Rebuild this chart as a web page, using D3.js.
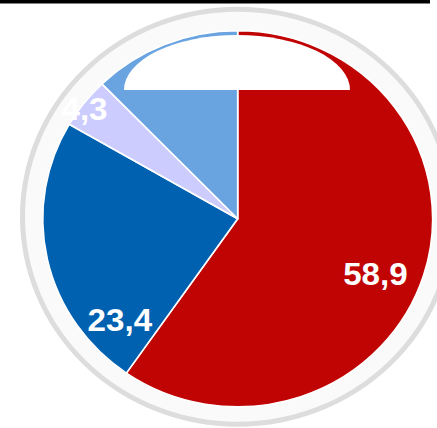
<!DOCTYPE html>
<html>
<head>
<meta charset="utf-8">
<script src="https://cdn.jsdelivr.net/npm/d3@7"></script>
<style>
  html, body { margin: 0; padding: 0; background: #fff; }
  svg { display: block; }
</style>
</head>
<body>
<svg width="437" height="428"></svg>
<script>
// data
const categories = ['A', 'B', 'C', 'D'];
const values = [58.9, 23.4, 4.3, 12.1];
const labels = ['58,9', '23,4', '4,3', '12,1'];
const colors = ['#c00404', '#0061b0', '#ccccff', '#69a3e0'];

// where each label sits inside its slice: fraction along the slice, fraction of radius
const labelT = [0.524, 0.16, 0.41, 0.6];
const labelK = [0.765, 0.807, 0.979, 0.85];

const svg = d3.select('svg');
const cx = 237.7, cy = 218.8, r = 188, sx = 1.037;

// top rule
svg.append('rect').attr('x', 0).attr('y', 0).attr('width', 430).attr('height', 3.5).attr('fill', '#000');

// outer ring
svg.append('ellipse')
  .attr('cx', cx).attr('cy', 216.7)
  .attr('rx', 207.5 * sx).attr('ry', 207.5)
  .attr('fill', '#fafafa')
  .attr('stroke', '#dddddd')
  .attr('stroke-width', 5);

const data = categories.map((c, i) => ({ cat: c, value: values[i], label: labels[i], color: colors[i], idx: i }));

const pie = d3.pie().sort(null).value(d => d.value);
const arc = d3.arc().innerRadius(0).outerRadius(r);
const arcs = pie(data);

const g = svg.append('g').attr('transform', `translate(${cx},${cy}) scale(${sx},1)`);

g.selectAll('path.slice').data(arcs).enter().append('path')
  .attr('class', 'slice')
  .attr('d', arc)
  .attr('fill', d => d.data.color)
  .attr('stroke', '#fff')
  .attr('stroke-width', 1.6)
  .attr('stroke-linejoin', 'round');

function labelPos(d) {
  const j = d.data.idx;
  const a = d.startAngle + labelT[j] * (d.endAngle - d.startAngle);
  return [Math.sin(a) * r * labelK[j], -Math.cos(a) * r * labelK[j]];
}

g.selectAll('text.lbl').data(arcs).enter().append('text')
  .attr('class', 'lbl')
  .attr('text-anchor', 'middle')
  .attr('font-family', 'Liberation Sans, Arial, sans-serif')
  .attr('font-weight', 'bold')
  .attr('font-size', 32)
  .attr('fill', '#ffffff')
  .attr('x', d => labelPos(d)[0])
  .attr('y', d => labelPos(d)[1])
  .attr('dy', '0.358em')
  .text(d => d.data.label);

// white box over the top of the pie
svg.append('path')
  .attr('d', 'M124,90 A113,55 0 0 1 350,90 Z')
  .attr('fill', '#fff');
</script>
</body>
</html>
